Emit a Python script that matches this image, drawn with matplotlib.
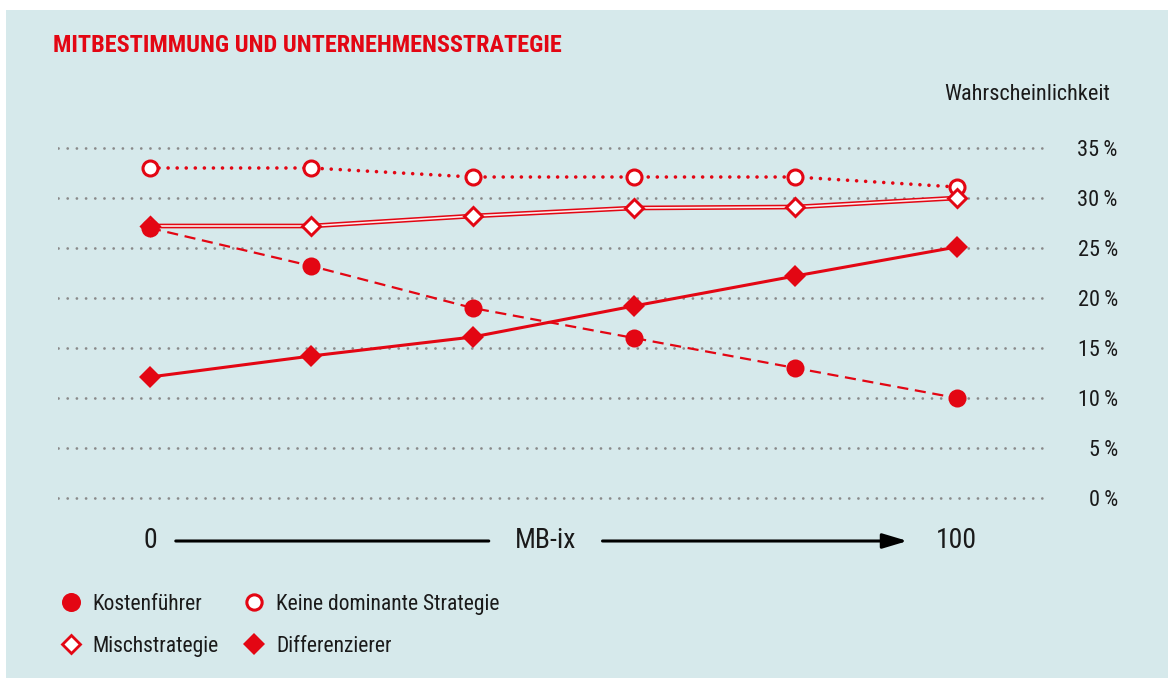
import matplotlib
matplotlib.use('Agg')
import matplotlib.pyplot as plt
import matplotlib.transforms as mtransforms
from matplotlib import font_manager as fm
from matplotlib.lines import Line2D
from matplotlib.patches import Rectangle

# look for a condensed sans face; the chart uses a narrow grotesque
cond = {}
for f in fm.fontManager.ttflist:
    if f.stretch in ('condensed', 'semi-condensed', 'extra-condensed') or 'Narrow' in f.name:
        cond.setdefault(f.name, f.stretch)
family = 'DejaVu Sans'
stretch = 'normal'
for pref in ['Liberation Sans Narrow', 'Roboto Condensed', 'Roboto', 'Noto Sans', 'Open Sans',
             'DejaVu Sans Condensed', 'DejaVu Sans']:
    if pref in cond:
        family = pref
        stretch = cond[pref]
        break
if family == 'DejaVu Sans' and cond:
    family = sorted(cond)[0]
    stretch = cond[family]
plt.rcParams['font.family'] = [family, 'DejaVu Sans']
plt.rcParams['font.stretch'] = stretch

# data
mbix = [0, 20, 40, 60, 80, 100]
kostenfuehrer = [27.0, 23.2, 19.0, 16.0, 13.0, 10.0]
keine_dominante = [33.0, 33.0, 32.1, 32.1, 32.1, 31.1]
mischstrategie = [27.2, 27.2, 28.2, 29.0, 29.1, 30.0]
differenzierer = [12.1, 14.2, 16.1, 19.2, 22.2, 25.1]
y_ticks = [0, 5, 10, 15, 20, 25, 30, 35]

red = '#e30613'
bg = '#d6e9eb'
ink = '#1a1a1a'
W, H = 1168, 678

fig = plt.figure(figsize=(W / 100, H / 100), dpi=100)
fig.patch.set_facecolor('white')
fig.patches.append(Rectangle((6 / W, 0), 1 - 6 / W, 1 - 10 / H, transform=fig.transFigure,
                             facecolor=bg, edgecolor='none', zorder=-10))

ax = fig.add_axes([58 / W, 1 - 505 / H, (1047 - 58) / W, (505 - 140) / H])
ax.set_facecolor('none')
for s in ax.spines.values():
    s.set_visible(False)
ax.set_xlim(-11.4, 111.2)
ax.set_ylim(-0.7, 35.8)
ax.set_xticks([])
ax.set_yticks(y_ticks)
ax.set_yticklabels([f'{t}\u2009%' for t in y_ticks], fontsize=16, color=ink)
ax.yaxis.tick_right()
ax.tick_params(axis='y', length=0, pad=51)
for lab in ax.get_yticklabels():
    lab.set_horizontalalignment('right')
ax.yaxis.grid(True, color='#8a8a8a', linestyle=(0, (0.01, 3.3)), linewidth=2.0,
              dash_capstyle='round')
ax.set_axisbelow(True)

# series
ax.plot(mbix, keine_dominante, color=red, lw=2.6, linestyle=(0, (0.01, 2.5)),
        dash_capstyle='round', marker='o', ms=10.8, mfc='white', mec=red, mew=2.2, zorder=3)
ax.plot(mbix, mischstrategie, color=red, lw=3.4, zorder=4)
ax.plot(mbix, mischstrategie, color='#fbecec', lw=1.2, zorder=4)
ax.plot(mbix, mischstrategie, linestyle='none', marker='D', ms=9.2, mfc='white',
        mec=red, mew=2.1, zorder=4)
ax.plot(mbix, kostenfuehrer, color=red, lw=1.6, linestyle=(0, (5, 3)),
        marker='o', ms=13, mfc=red, mec=red, mew=0, zorder=5)
ax.plot(mbix, differenzierer, color=red, lw=2.2, marker='D', ms=11, mfc=red,
        mec=red, mew=0, zorder=5)

# x axis: 0 --- MB-ix ---> 100
trans = mtransforms.blended_transform_factory(ax.transData, fig.transFigure)
y_ax = 1 - 541 / H
ax.text(0, y_ax, '0', transform=trans, ha='center', va='center', fontsize=20, color=ink)
ax.text(100, y_ax, '100', transform=trans, ha='center', va='center', fontsize=20, color=ink)
ax.text(49, y_ax, 'MB-ix', transform=trans, ha='center', va='center', fontsize=20, color=ink)
ax.annotate('', xy=(42.0, y_ax), xytext=(3.2, y_ax), xycoords=trans, textcoords=trans,
            arrowprops=dict(arrowstyle='-', color='black', lw=2.2, shrinkA=0, shrinkB=0))
ax.annotate('', xy=(93.9, y_ax), xytext=(56.1, y_ax), xycoords=trans, textcoords=trans,
            arrowprops=dict(arrowstyle='-|>,head_length=1.5,head_width=0.45', mutation_scale=10,
                            color='black', lw=2.2, shrinkA=0, shrinkB=0))

# title and axis caption
fig.text(53 / W, 1 - 46 / H, 'MITBESTIMMUNG UND UNTERNEHMENSSTRATEGIE', color=red,
         fontsize=17.5, fontweight='bold', va='center', ha='left')
fig.text(1110 / W, 1 - 95 / H, 'Wahrscheinlichkeit', fontsize=16, color=ink,
         ha='right', va='center')

# legend
handles = [
    Line2D([], [], linestyle='none', marker='o', ms=13.7, mfc=red, mec=red, mew=0),
    Line2D([], [], linestyle='none', marker='D', ms=9.5, mfc='white', mec=red, mew=2.0),
    Line2D([], [], linestyle='none', marker='o', ms=11, mfc='white', mec=red, mew=2.2),
    Line2D([], [], linestyle='none', marker='D', ms=11.2, mfc=red, mec=red, mew=0),
]
labels = ['Kostenführer', 'Mischstrategie', 'Keine dominante Strategie', 'Differenzierer']
fig.legend(handles, labels, loc='upper left', bbox_to_anchor=(58 / W, 1 - 594 / H),
           ncol=2, frameon=False, fontsize=15.5, handlelength=1.2, handletextpad=0.42,
           columnspacing=1.02, labelspacing=0.96, borderpad=0, borderaxespad=0,
           labelcolor=ink)

fig.savefig('out.png', dpi=100)
